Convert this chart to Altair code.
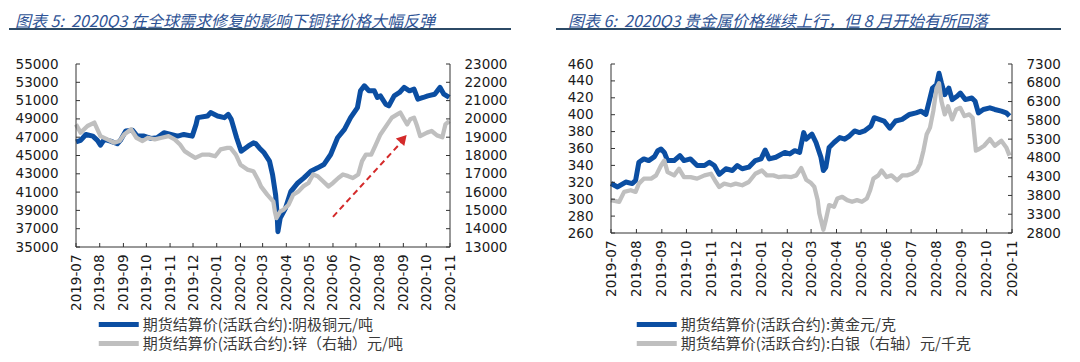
import altair as alt
import pandas as pd

# ---------------- data: left panel (copper / zinc) ----------------
cu_dates = ["2019-07-01","2019-07-07","2019-07-14","2019-07-23","2019-07-29","2019-08-02","2019-08-07",
            "2019-08-15","2019-08-24","2019-08-28","2019-09-04","2019-09-13","2019-09-19","2019-09-28",
            "2019-10-07","2019-10-15","2019-10-24","2019-11-02","2019-11-11","2019-11-19","2019-11-30",
            "2019-12-05","2019-12-07","2019-12-20","2019-12-24","2020-01-02","2020-01-11","2020-01-16",
            "2020-01-20","2020-01-27","2020-02-02","2020-02-11","2020-02-18","2020-02-21","2020-02-26",
            "2020-03-03","2020-03-10","2020-03-14","2020-03-18","2020-03-20","2020-03-21","2020-03-24",
            "2020-03-31","2020-04-07","2020-04-16","2020-04-24","2020-05-03","2020-05-12","2020-05-20",
            "2020-05-29","2020-06-07","2020-06-16","2020-06-24","2020-07-03","2020-07-07","2020-07-12",
            "2020-07-18","2020-07-25","2020-07-29","2020-08-02","2020-08-09","2020-08-13","2020-08-20",
            "2020-08-27","2020-09-02","2020-09-09","2020-09-15","2020-09-20","2020-09-27","2020-10-03",
            "2020-10-12","2020-10-19","2020-10-24","2020-10-31"]
cu_values = [46500,46650,47300,47120,46650,46130,46760,46570,46280,46650,47670,47750,47120,47120,
             46870,46940,47490,47300,47120,47300,47120,48400,49140,49320,49690,49320,49140,49500,
             48950,46940,45470,46020,46390,46300,45800,45290,44380,42910,40710,38510,36680,38150,
             39250,41080,42000,42550,43280,43650,44010,45110,46940,47860,49140,50240,52070,52620,
             52070,52070,51340,51520,50600,50420,51520,51890,52440,52070,52250,51150,51340,51520,
             51700,52440,51700,51340]

zn_dates = ["2019-07-01","2019-07-07","2019-07-16","2019-07-25","2019-08-02","2019-08-11","2019-08-20",
            "2019-08-27","2019-09-02","2019-09-11","2019-09-18","2019-09-26","2019-10-03","2019-10-12",
            "2019-10-21","2019-10-30","2019-11-07","2019-11-14","2019-11-20","2019-11-27","2019-12-04",
            "2019-12-13","2019-12-22","2019-12-30","2020-01-06","2020-01-15","2020-01-19","2020-01-26",
            "2020-02-01","2020-02-10","2020-02-18","2020-02-24","2020-02-28","2020-03-07","2020-03-11",
            "2020-03-15","2020-03-17","2020-03-19","2020-03-24","2020-03-28","2020-04-04","2020-04-10",
            "2020-04-17","2020-04-23","2020-04-30","2020-05-06","2020-05-12","2020-05-19","2020-05-26",
            "2020-06-01","2020-06-08","2020-06-14","2020-06-21","2020-06-27","2020-07-04","2020-07-09",
            "2020-07-14","2020-07-21","2020-07-27","2020-08-02","2020-08-11","2020-08-17","2020-08-24",
            "2020-08-28","2020-09-02","2020-09-06","2020-09-10","2020-09-15","2020-09-19","2020-09-23",
            "2020-10-02","2020-10-08","2020-10-15","2020-10-22","2020-10-26","2020-10-31"]
zn_values = [19700,19250,19610,19800,19060,18880,18700,18790,19150,19430,18970,18790,18970,18880,
             18970,19060,18880,18600,18240,18050,17870,18050,18050,17960,18330,18420,18420,18050,
             17500,17230,17140,16680,16300,15860,15670,15490,14940,14580,14940,15030,15310,15860,
             16040,16310,16500,16960,16870,16590,16310,16500,16770,16960,16870,16770,16960,17690,
             18050,18050,18600,19150,19700,20070,20250,20350,19980,19700,19980,20070,19610,19060,
             19250,19340,19100,19000,19700,19880]

# ---------------- data: right panel (gold / silver) ----------------
au_dates = ["2019-07-01","2019-07-09","2019-07-19","2019-07-27","2019-07-31","2019-08-04","2019-08-10",
            "2019-08-16","2019-08-23","2019-08-27","2019-08-31","2019-09-04","2019-09-08","2019-09-16",
            "2019-09-23","2019-09-28","2019-10-06","2019-10-14","2019-10-23","2019-10-29","2019-11-04",
            "2019-11-10","2019-11-18","2019-11-26","2019-12-02","2019-12-08","2019-12-16","2019-12-24",
            "2019-12-31","2020-01-05","2020-01-10","2020-01-18","2020-01-29","2020-02-04","2020-02-10",
            "2020-02-16","2020-02-21","2020-02-24","2020-03-02","2020-03-07","2020-03-13","2020-03-16",
            "2020-03-19","2020-03-23","2020-03-29","2020-04-05","2020-04-11","2020-04-17","2020-04-23",
            "2020-04-29","2020-05-05","2020-05-13","2020-05-17","2020-05-23","2020-05-29","2020-06-05",
            "2020-06-12","2020-06-20","2020-06-29","2020-07-07","2020-07-13","2020-07-19","2020-07-23",
            "2020-07-27","2020-08-01","2020-08-04","2020-08-07","2020-08-11","2020-08-16","2020-08-20",
            "2020-08-26","2020-08-30","2020-09-05","2020-09-13","2020-09-17","2020-09-21","2020-09-27",
            "2020-10-05","2020-10-11","2020-10-19","2020-10-25","2020-10-29"]
au_values = [318.5,314.5,320.3,318.5,322.3,343.7,347.7,345.7,350.4,357.4,359.4,355.4,345.7,345.7,
             351.6,345.7,347.7,339.9,339.9,343.7,339.9,329.4,336.0,334.0,339.9,336.0,337.9,345.7,
             347.7,358.2,347.7,349.6,355.4,353.6,357.4,355.4,378.8,371.1,377.0,367.1,349.6,334.0,
             337.9,361.3,367.1,373.0,371.1,375.0,380.8,378.8,380.8,386.7,396.4,394.5,392.5,384.0,
             392.5,394.5,400.3,402.2,404.2,400.3,415.9,431.5,435.4,449.0,437.3,423.7,431.5,417.9,
             421.8,425.6,417.9,419.8,415.9,402.2,406.2,408.1,406.2,404.2,402.2,398.4]

ag_dates = ["2019-07-01","2019-07-11","2019-07-17","2019-07-25","2019-07-31","2019-08-04","2019-08-10",
            "2019-08-19","2019-08-25","2019-08-31","2019-09-04","2019-09-08","2019-09-16","2019-09-22",
            "2019-09-28","2019-10-06","2019-10-14","2019-10-23","2019-10-31","2019-11-06","2019-11-10",
            "2019-11-16","2019-11-24","2019-11-30","2019-12-08","2019-12-16","2019-12-24","2020-01-01",
            "2020-01-07","2020-01-15","2020-01-21","2020-01-29","2020-02-06","2020-02-12","2020-02-18",
            "2020-02-24","2020-03-01","2020-03-05","2020-03-09","2020-03-11","2020-03-16","2020-03-19",
            "2020-03-23","2020-03-29","2020-04-02","2020-04-08","2020-04-14","2020-04-20","2020-04-26",
            "2020-05-02","2020-05-08","2020-05-12","2020-05-16","2020-05-22","2020-05-26","2020-06-01",
            "2020-06-07","2020-06-14","2020-06-20","2020-06-26","2020-07-02","2020-07-08","2020-07-12",
            "2020-07-16","2020-07-20","2020-07-24","2020-07-28","2020-08-01","2020-08-04","2020-08-07",
            "2020-08-11","2020-08-15","2020-08-20","2020-08-25","2020-08-30","2020-09-04","2020-09-10",
            "2020-09-14","2020-09-18","2020-09-22","2020-09-28","2020-10-05","2020-10-11","2020-10-19",
            "2020-10-25","2020-10-29"]
ag_values = [3676,3631,3894,3939,3894,4115,4247,4247,4334,4597,4729,4420,4334,4510,4289,4289,4247,
             4334,4378,4157,4026,4115,4071,4115,4071,4157,4378,4465,4334,4334,4289,4307,4289,4334,
             4530,4220,4130,4026,3676,3326,2886,3149,3544,3500,3720,3763,3676,3631,3676,3631,3720,
             3939,4247,4334,4465,4289,4334,4202,4334,4334,4378,4465,4641,4992,5431,5605,6045,6658,
             6789,6308,5958,6176,5826,6089,6132,5913,5958,5869,4992,5036,5123,5300,5123,5255,5079,4860]

# labels / ticks
NB = "\u00a0"
TITLE1 = "图表 5:" + NB * 2 + "2020Q3 在全球需求修复的影响下铜锌价格大幅反弹"
TITLE2 = "图表 6:" + NB * 2 + "2020Q3 贵金属价格继续上行，但 8 月开始有所回落"
CU = "期货结算价(活跃合约):阴极铜元/吨"
ZN = "期货结算价(活跃合约):锌（右轴）元/吨"
AU = "期货结算价(活跃合约):黄金元/克"
AG = "期货结算价(活跃合约):白银（右轴）元/千克"
month_ticks = ["2019-07-01","2019-08-01","2019-09-01","2019-10-01","2019-11-01","2019-12-01",
               "2020-01-01","2020-02-01","2020-03-01","2020-04-01","2020-05-01","2020-06-01",
               "2020-07-01","2020-08-01","2020-09-01","2020-10-01","2020-11-01"]
cu_ticks = [35000,37000,39000,41000,43000,45000,47000,49000,51000,53000,55000]
zn_ticks = [13000,14000,15000,16000,17000,18000,19000,20000,21000,22000,23000]
au_ticks = [260,280,300,320,340,360,380,400,420,440,460]
ag_ticks = [2800,3300,3800,4300,4800,5300,5800,6300,6800,7300]
# red dashed trend arrow annotation (copper axis units)
arrow_dates = ["2020-06-01", "2020-08-29"]
arrow_values = [38300, 46430]
arrow_head_date = ["2020-09-01"]
arrow_head_value = [46850]

BLUE = "#0B4EA2"
GRAY = "#BFBFBF"
RED = "#D42A2A"
AXC = "#333333"
TFONT = "Noto Sans CJK SC"
NFONT = "DejaVu Sans"

W1, H1 = 374, 183
W2, H2 = 401, 169


def dt(s):
    y, m, d = map(int, s.split("-"))
    return alt.DateTime(year=y, month=m, date=d)


def series_df(dates, values, name):
    return pd.DataFrame({"date": pd.to_datetime(dates), "value": values, "series": name})


month_df = pd.DataFrame({"date": pd.to_datetime(month_ticks)})
one_row = pd.DataFrame({"t": [0]})


def xs():
    return alt.Scale(domain=[dt(month_ticks[0]), dt(month_ticks[-1])])


def panel(dates_a, vals_a, name_a, dom_a, ticks_a, dates_b, vals_b, name_b, dom_b, ticks_b,
          W, H, title, title_x, title_y, line_x0, line_x1, line_y, leg_x, leg_y, arrow=False):
    lab = dict(labelFont=NFONT, labelFontSize=13.5, labelColor="#1a1a1a", title=None,
               ticks=False, grid=False, domain=False)
    xaxis = alt.Axis(values=[dt(s) for s in month_ticks], format="%Y-%m", labelAngle=270,
                     labelPadding=7, **lab)
    yaxis_a = alt.Axis(orient="left", values=ticks_a, format="d", labelPadding=18, **lab)
    yaxis_b = alt.Axis(orient="right", values=ticks_b, format="d", labelPadding=14, **lab)
    color = alt.Color("series:N",
                      scale=alt.Scale(domain=[name_a, name_b], range=[BLUE, GRAY]),
                      legend=alt.Legend(orient="none", legendX=leg_x, legendY=leg_y, title=None,
                                        symbolType="M-4,0H4", symbolSize=100, symbolStrokeWidth=5,
                                        symbolOffset=12.25, labelOffset=16.5,
                                        labelFont=TFONT, labelFontSize=15, labelColor="#3a3a3a",
                                        rowPadding=-2, padding=0, labelLimit=0))
    ya = lambda: alt.Scale(domain=dom_a, nice=False, zero=False)
    yb = lambda: alt.Scale(domain=dom_b, nice=False, zero=False)

    df = pd.concat([series_df(dates_a, vals_a, name_a), series_df(dates_b, vals_b, name_b)])
    base = alt.Chart(df)

    line_a = base.transform_filter(alt.datum.series == name_a).mark_line(
        strokeWidth=5, strokeJoin="round").encode(
        x=alt.X("date:T", scale=xs(), axis=xaxis),
        y=alt.Y("value:Q", scale=ya(), axis=yaxis_a),
        color=color)
    line_b = base.transform_filter(alt.datum.series == name_b).mark_line(
        strokeWidth=4.3, strokeJoin="round").encode(
        x=alt.X("date:T", scale=xs(), axis=None),
        y=alt.Y("value:Q", scale=yb(), axis=yaxis_b),
        color=color)

    tick_a = alt.Chart(pd.DataFrame({"v": ticks_a})).mark_rule(color=AXC, strokeWidth=1).encode(
        y=alt.Y("v:Q", scale=ya(), axis=None), x=alt.value(0), x2=alt.value(4))
    tick_b = alt.Chart(pd.DataFrame({"v": ticks_b})).mark_rule(color=AXC, strokeWidth=1).encode(
        y=alt.Y("v:Q", scale=yb(), axis=None), x=alt.value(W), x2=alt.value(W - 4))
    tick_x = alt.Chart(month_df).mark_rule(color=AXC, strokeWidth=1).encode(
        x=alt.X("date:T", scale=xs(), axis=None), y=alt.value(H), y2=alt.value(H - 4))

    # axis lines (left, right, bottom) of the plot frame
    frame_l = alt.Chart(one_row).mark_rule(color=AXC, strokeWidth=1).encode(
        x=alt.value(0), y=alt.value(0), y2=alt.value(H))
    frame_r = alt.Chart(one_row).mark_rule(color=AXC, strokeWidth=1).encode(
        x=alt.value(W), y=alt.value(0), y2=alt.value(H))
    frame_b = alt.Chart(one_row).mark_rule(color=AXC, strokeWidth=1).encode(
        x=alt.value(0), x2=alt.value(W), y=alt.value(H))

    layers = [line_a, line_b]
    layers += [tick_a, tick_b, tick_x, frame_l, frame_r, frame_b]
    if arrow:
        adf = pd.DataFrame({"d1": pd.to_datetime([arrow_dates[0]]), "d2": pd.to_datetime([arrow_dates[1]]),
                            "v1": [arrow_values[0]], "v2": [arrow_values[1]]})
        arrow_line = alt.Chart(adf).mark_rule(color=RED, strokeWidth=2, strokeDash=[6, 4]).encode(
            x=alt.X("d1:T", scale=xs(), axis=None), x2="d2:T",
            y=alt.Y("v1:Q", scale=ya(), axis=None), y2="v2:Q")
        hdf = pd.DataFrame({"d": pd.to_datetime(arrow_head_date), "v": arrow_head_value})
        arrow_head = alt.Chart(hdf).mark_point(shape="triangle-up", filled=True, size=130, angle=42,
                                               color=RED, opacity=1).encode(
            x=alt.X("d:T", scale=xs(), axis=None), y=alt.Y("v:Q", scale=ya(), axis=None))
        layers += [arrow_line, arrow_head]

    title_text = alt.Chart(pd.DataFrame({"t": [title]})).mark_text(
        align="left", baseline="top", font=TFONT, fontSize=16, fontStyle="italic",
        color="#2F5496").encode(text="t:N", x=alt.value(title_x), y=alt.value(title_y))
    underline = alt.Chart(one_row).mark_rule(color="#2C4A66", strokeWidth=2).encode(
        x=alt.value(line_x0), x2=alt.value(line_x1), y=alt.value(line_y))
    layers += [title_text, underline]

    return alt.layer(*layers).resolve_scale(x="independent", y="independent").properties(
        width=W, height=H)


left = panel(cu_dates, cu_values, CU, [35000, 55000], cu_ticks,
             zn_dates, zn_values, ZN, [13000, 23000], zn_ticks,
             W1, H1, TITLE1, -61, -50, -67, 435, -35, 23, 253, arrow=True)
right = panel(au_dates, au_values, AU, [260, 460], au_ticks,
              ag_dates, ag_values, AG, [2800, 7300], ag_ticks,
              W2, H2, TITLE2, -43, -50, -55, 450, -35, 26, 253)

chart = alt.hconcat(left, right, spacing=43).resolve_scale(color="independent").properties(
    padding={"top": 6, "left": 0, "right": 0, "bottom": 0}
).configure_view(stroke=None)

chart.save("out.html", embed_options={"renderer": "svg", "actions": False})
